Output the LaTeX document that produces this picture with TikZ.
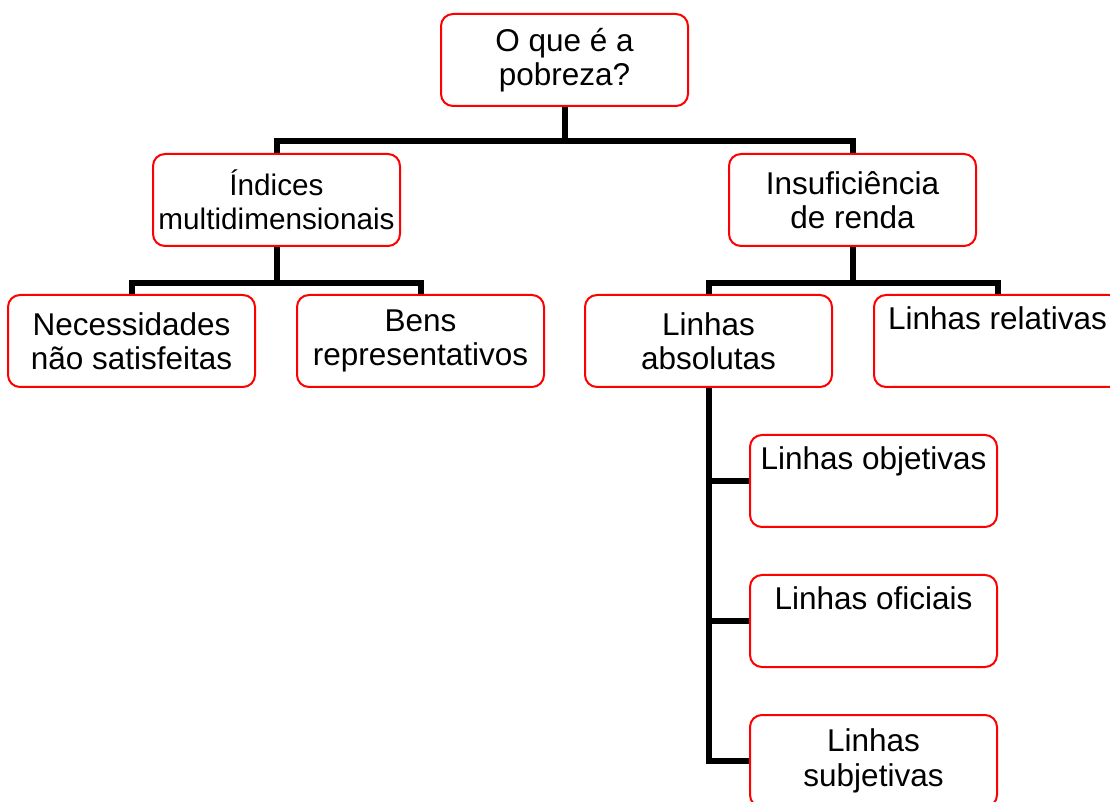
\documentclass[tikz,border=0pt]{standalone}
\usepackage{fontspec}
\setmainfont{Liberation Sans}
\usetikzlibrary{positioning}

\begin{document}
\begin{tikzpicture}[node distance=70pt]
    \tikzset{
        mybox/.style = {rectangle, rounded corners=6pt, line width=1pt, draw=red, fill=white, minimum width=123.5pt, minimum height=46pt, inner sep=1pt, align=center, font=\fontsize{15.75}{17.25}\selectfont},
        oneline/.style = {text height=11.5pt, text depth=22.5pt},
        conn/.style = {line width=3pt, black},
    }
    \useasboundingbox (0,0) rectangle (555pt,-401pt);
    \clip (0,0) rectangle (555pt,-401pt);

    \node (root) [mybox] at (282.25pt,-30pt) {O que é a\\pobreza?};
    \node (ind) [mybox, below of=root, xshift=-144pt, font=\fontsize{14.85}{17}\selectfont] {Índices\\multidimensionais};
    \node (ins) [mybox, below of=root, xshift=144pt] {Insuficiência\\de renda};
    \node (nec) [mybox, below of=ind, xshift=-72.5pt, yshift=-0.5pt] {Necessidades\\não satisfeitas};
    \node (bens) [mybox, below of=ind, xshift=72pt, yshift=-0.5pt] {Bens\\representativos};
    \node (abs) [mybox, below of=ins, xshift=-72pt, yshift=-0.5pt] {Linhas\\absolutas};
    \node (rel) [mybox, oneline, below of=ins, xshift=72.5pt, yshift=-0.5pt] {Linhas relativas};
    \node (obj) [mybox, oneline, below of=abs, xshift=82.5pt] {Linhas objetivas};
    \node (ofi) [mybox, oneline, below of=obj] {Linhas oficiais};
    \node (subj) [mybox, below of=ofi] {Linhas\\subjetivas};

    \draw [conn] (root.south) -- ++(0,-17pt) -| (ind.north);
    \draw [conn] (root.south) -- ++(0,-17pt) -| (ins.north);
    \draw [conn] (ind.south) -- ++(0,-18pt) -| (nec.north);
    \draw [conn] (ind.south) -- ++(0,-18pt) -| (bens.north);
    \draw [conn] (ins.south) -- ++(0,-18pt) -| (abs.north);
    \draw [conn] (ins.south) -- ++(0,-18pt) -| (rel.north);
    \draw [conn] (abs.south) |- (obj.west);
    \draw [conn] (abs.south) |- (ofi.west);
    \draw [conn] (abs.south) |- (subj.west);
\end{tikzpicture}
\end{document}
